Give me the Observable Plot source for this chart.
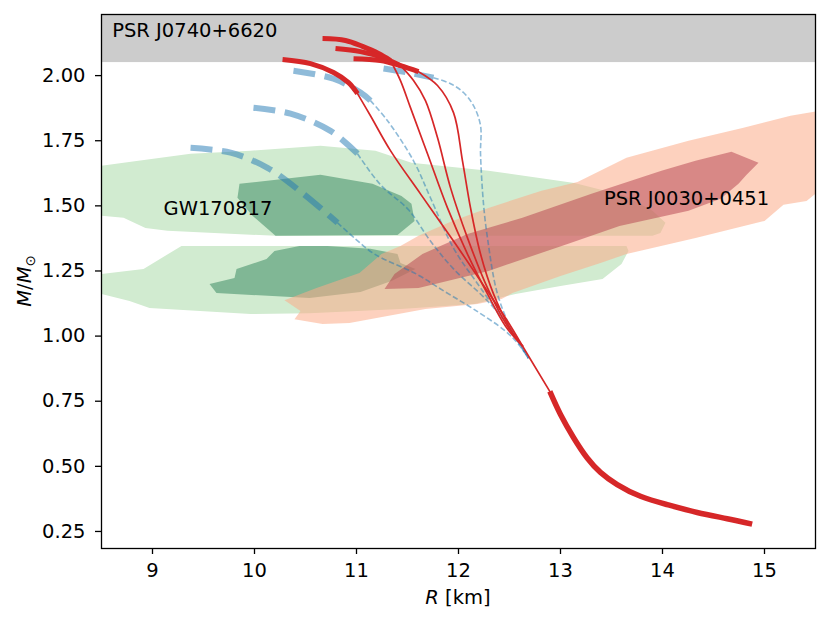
<!DOCTYPE html>
<html>
<head>
<meta charset="utf-8">
<script src="https://cdn.jsdelivr.net/npm/d3@7"></script>
<script src="https://cdn.jsdelivr.net/npm/@observablehq/plot@0.6"></script>
<style>
  body { margin: 0; background: #fff; }
  #chart svg { display: block; }
</style>
</head>
<body>
<div id="chart"></div>
<script>
// ---------- axes ----------
const xDomain = [8.5, 15.5];
const yDomain = [0.1846, 2.2346];
const xTicks = [9, 10, 11, 12, 13, 14, 15];
const yTicks = [0.25, 0.5, 0.75, 1.0, 1.25, 1.5, 1.75, 2.0];

// ---------- PSR J0740+6620 lower mass bound ----------
const psrJ0740Mass = 2.05;

// ---------- GW170817 credible regions (R km, M Msun) ----------
const gwHighOuterR = [8.5, 8.716, 9.373, 9.961, 10.647, 11.186, 11.539, 12.294, 13.137, 13.637, 13.902, 14.029, 13.980, 13.902, 11.431, 10.206, 9.147, 8.931, 8.716, 8.5];
const gwHighOuterM = [1.654, 1.665, 1.700, 1.712, 1.731, 1.712, 1.665, 1.635, 1.588, 1.538, 1.481, 1.435, 1.396, 1.385, 1.385, 1.385, 1.404, 1.415, 1.454, 1.462];
const gwHighInnerR = [9.853, 10.647, 11.157, 11.441, 11.539, 11.569, 11.402, 10.206, 9.980, 9.833];
const gwHighInnerM = [1.585, 1.619, 1.585, 1.538, 1.508, 1.442, 1.388, 1.385, 1.462, 1.531];
const gwLowOuterR = [8.5, 8.912, 9.284, 13.647, 13.667, 13.598, 13.412, 13.0, 12.559, 12.157, 11.431, 10.539, 9.961, 8.971, 8.775, 8.5];
const gwLowOuterM = [1.238, 1.258, 1.346, 1.346, 1.327, 1.277, 1.219, 1.192, 1.162, 1.123, 1.104, 1.088, 1.085, 1.108, 1.135, 1.162];
const gwLowInnerR = [10.196, 10.441, 10.716, 11.137, 11.402, 11.431, 11.578, 11.343, 11.039, 10.539, 9.627, 9.559, 9.804, 9.824, 10.118];
const gwLowInnerM = [1.327, 1.346, 1.346, 1.335, 1.315, 1.281, 1.258, 1.212, 1.169, 1.146, 1.165, 1.200, 1.223, 1.258, 1.296];

// ---------- PSR J0030+0451 (NICER) credible regions ----------
const nicerOuterR = [10.294, 10.608, 11.029, 11.245, 11.431, 11.608, 11.941, 12.294, 12.814, 13.167, 13.647, 14.255, 14.794, 15.255, 15.5, 15.5, 15.412, 15.186, 15.0, 14.324, 13.647, 13.392, 13.0, 12.529, 12.422, 12.186, 11.676, 10.931, 10.667, 10.392, 10.451];
const nicerOuterM = [1.138, 1.185, 1.242, 1.315, 1.346, 1.385, 1.442, 1.492, 1.558, 1.592, 1.685, 1.750, 1.800, 1.846, 1.862, 1.546, 1.519, 1.504, 1.442, 1.377, 1.315, 1.281, 1.231, 1.165, 1.142, 1.123, 1.104, 1.050, 1.046, 1.065, 1.096];
const nicerInnerR = [11.275, 11.373, 11.647, 12.088, 12.627, 13.304, 13.990, 14.324, 14.676, 14.941, 14.824, 14.745, 14.569, 14.255, 13.578, 13.069, 12.294, 11.608];
const nicerInnerM = [1.181, 1.238, 1.315, 1.392, 1.454, 1.546, 1.635, 1.673, 1.708, 1.665, 1.619, 1.585, 1.527, 1.481, 1.423, 1.354, 1.250, 1.185];

// ---------- red M-R curves (thick = upper branch, thin = middle) ----------
const red1ThickR = [10.275, 10.549, 10.775, 10.922, 11.010];
const red1ThickM = [2.062, 2.046, 2.012, 1.973, 1.931];
const red1ThinR = [11.010, 11.137, 11.333, 11.627, 11.951, 12.216, 12.480, 12.627];
const red1ThinM = [1.931, 1.846, 1.712, 1.546, 1.365, 1.212, 1.058, 0.962];
const red2ThickR = [10.667, 10.892, 11.059, 11.216, 11.333];
const red2ThickM = [2.142, 2.135, 2.112, 2.085, 2.058];
const red2ThinR = [11.333, 11.431, 11.529, 11.696, 11.892, 12.088, 12.284, 12.461, 12.627];
const red2ThinM = [2.058, 1.981, 1.877, 1.700, 1.492, 1.315, 1.162, 1.038, 0.962];
const red3ThickR = [10.794, 11.039, 11.255, 11.431];
const red3ThickM = [2.104, 2.092, 2.069, 2.038];
const red3ThinR = [11.431, 11.559, 11.676, 11.794, 11.922, 12.088, 12.284, 12.480, 12.627];
const red3ThinM = [2.038, 1.981, 1.904, 1.762, 1.569, 1.377, 1.185, 1.038, 0.962];
const red4ThickR = [10.971, 11.235, 11.431, 11.608];
const red4ThickM = [2.065, 2.058, 2.038, 2.015];
const red4ThinR = [11.608, 11.794, 11.951, 12.039, 12.118, 12.216, 12.343, 12.510, 12.627];
const red4ThinM = [2.015, 1.962, 1.858, 1.673, 1.492, 1.315, 1.162, 1.027, 0.962];
// shared low-mass part
const redStemR = [12.627, 12.895];
const redStemM = [0.962, 0.788];
const redTailR = [12.895, 13.0, 13.130, 13.262, 13.392, 13.556, 13.784, 14.046, 14.340, 14.634, 14.879];
const redTailM = [0.788, 0.699, 0.609, 0.532, 0.477, 0.430, 0.385, 0.353, 0.323, 0.299, 0.278];

// ---------- blue M-R curves ----------
const blue1ThickR = [9.373, 9.765, 10.127, 10.480, 10.814];
const blue1ThickM = [1.723, 1.704, 1.646, 1.546, 1.435];
const blue1ThinR = [10.814, 10.990, 11.176, 11.588, 11.873, 12.147, 12.461, 12.588, 12.686];
const blue1ThinM = [1.435, 1.373, 1.315, 1.238, 1.169, 1.104, 1.019, 0.969, 0.915];
const blue2ThickR = [9.990, 10.353, 10.745, 11.010];
const blue2ThickM = [1.877, 1.854, 1.788, 1.700];
const blue2ThinR = [11.010, 11.235, 11.510, 11.725, 11.951, 12.284, 12.529, 12.686];
const blue2ThinM = [1.700, 1.581, 1.485, 1.365, 1.258, 1.135, 1.019, 0.915];
const blue3ThickR = [10.382, 10.775, 11.039, 11.137];
const blue3ThickM = [2.019, 1.988, 1.935, 1.904];
const blue3ThinR = [11.137, 11.304, 11.559, 11.725, 11.951, 12.216, 12.539, 12.686];
const blue3ThinM = [1.904, 1.827, 1.673, 1.531, 1.338, 1.185, 1.008, 0.915];
const blue4ThickR = [11.265, 11.500, 11.755];
const blue4ThickM = [2.027, 2.012, 1.992];
const blue4ThinR = [11.755, 11.922, 12.049, 12.147, 12.216, 12.216, 12.245, 12.284, 12.382, 12.539, 12.686];
const blue4ThinM = [1.992, 1.969, 1.935, 1.885, 1.808, 1.700, 1.508, 1.377, 1.162, 1.008, 0.915];

// ---------- annotations ----------
const labelText = ["PSR J0740+6620", "GW170817", "PSR J0030+0451"];
const labelR = [8.605, 9.108, 13.426];
const labelM = [2.172, 1.490, 1.527];

// ---------- build tables ----------
const pts = (R, M, id) => R.map((r, i) => ({R: r, M: M[i], id}));
const group = (list) => list.flatMap(([R, M], k) => pts(R, M, k));

const redThick = group([[red1ThickR, red1ThickM], [red2ThickR, red2ThickM], [red3ThickR, red3ThickM], [red4ThickR, red4ThickM]]);
const redThin = group([[red1ThinR, red1ThinM], [red2ThinR, red2ThinM], [red3ThinR, red3ThinM], [red4ThinR, red4ThinM], [redStemR, redStemM]]);
const blueThick = group([[blue1ThickR, blue1ThickM], [blue2ThickR, blue2ThickM], [blue3ThickR, blue3ThickM], [blue4ThickR, blue4ThickM]]);
const blueThin = group([[blue1ThinR, blue1ThinM], [blue2ThinR, blue2ThinM], [blue3ThinR, blue3ThinM], [blue4ThinR, blue4ThinM]]);
const labels = labelText.map((t, i) => ({text: t, R: labelR[i], M: labelM[i]}));
const band = [{lo: psrJ0740Mass, hi: yDomain[1]}];

const FONT = "DejaVu Sans";
const region = (R, M, fill, opacity) =>
  Plot.line(pts(R, M, 0), {x: "R", y: "M", curve: "linear-closed", fill, fillOpacity: opacity, stroke: "none"});

const chart = Plot.plot({
  width: 830,
  height: 623,
  marginLeft: 101,
  marginRight: 15,
  marginTop: 14,
  marginBottom: 75,
  style: {fontFamily: FONT, fontSize: "19.5px", background: "#fff", color: "#000"},
  x: {domain: xDomain, label: null},
  y: {domain: yDomain, label: null},
  marks: [
    Plot.rect(band, {y1: "lo", y2: "hi", fill: "#cccccc"}),
    region(gwHighOuterR, gwHighOuterM, "#d1ebd0", 1),
    region(gwLowOuterR, gwLowOuterM, "#d1ebd0", 1),
    region(gwHighInnerR, gwHighInnerM, "#80b795", 1),
    region(gwLowInnerR, gwLowInnerM, "#80b795", 1),
    region(nicerOuterR, nicerOuterM, "#fbac89", 0.55),
    region(nicerInnerR, nicerInnerM, "#b4404e", 0.5),
    Plot.line(blueThin, {x: "R", y: "M", z: "id", curve: "catmull-rom", stroke: "#1f77b4", strokeOpacity: 0.5, strokeWidth: 1.6, strokeDasharray: "5.5,2.6", strokeLinecap: "butt"}),
    Plot.line(blueThick, {x: "R", y: "M", z: "id", curve: "catmull-rom", stroke: "#1f77b4", strokeOpacity: 0.5, strokeWidth: 6, strokeDasharray: "22,9.5", strokeLinecap: "butt"}),
    Plot.line(redThin, {x: "R", y: "M", z: "id", curve: "catmull-rom", stroke: "#d62728", strokeWidth: 1.7}),
    Plot.line(redThick, {x: "R", y: "M", z: "id", curve: "catmull-rom", stroke: "#d62728", strokeWidth: 5, strokeLinecap: "butt"}),
    Plot.line(pts(redTailR, redTailM, 0), {x: "R", y: "M", curve: "natural", stroke: "#d62728", strokeWidth: 5.5, strokeLinecap: "butt"}),
    Plot.text(labels, {x: "R", y: "M", text: "text", textAnchor: "start", lineAnchor: "middle", fontSize: 19.5, fill: "#000"}),
    Plot.frame({stroke: "#000", strokeWidth: 1.3}),
    Plot.axisX({ticks: xTicks, tickFormat: d3.format("d"), tickSize: 6, tickPadding: 9, label: null, fontSize: 19.5, strokeWidth: 1.3}),
    Plot.axisY({ticks: yTicks, tickFormat: d3.format(".2f"), tickSize: 6, tickPadding: 10, label: null, fontSize: 19.5, strokeWidth: 1.3})
  ]
});

document.getElementById("chart").appendChild(chart);

// axis titles with mixed italic / subscript
const svg = d3.select(chart);
const xl = svg.append("text")
  .attr("x", 458).attr("y", 604)
  .attr("text-anchor", "middle")
  .attr("font-family", FONT).attr("font-size", 19.5).attr("fill", "#000");
xl.append("tspan").attr("font-style", "italic").text("R");
xl.append("tspan").text(" [km]");

const yl = svg.append("text")
  .attr("transform", "translate(31,281) rotate(-90)")
  .attr("text-anchor", "middle")
  .attr("font-family", FONT).attr("font-size", 19.5).attr("fill", "#000");
yl.append("tspan").attr("font-style", "italic").text("M");
yl.append("tspan").text("/");
yl.append("tspan").attr("font-style", "italic").text("M");
yl.append("tspan").attr("font-size", 13.5).attr("dy", 4).text("⊙");
</script>
</body>
</html>
